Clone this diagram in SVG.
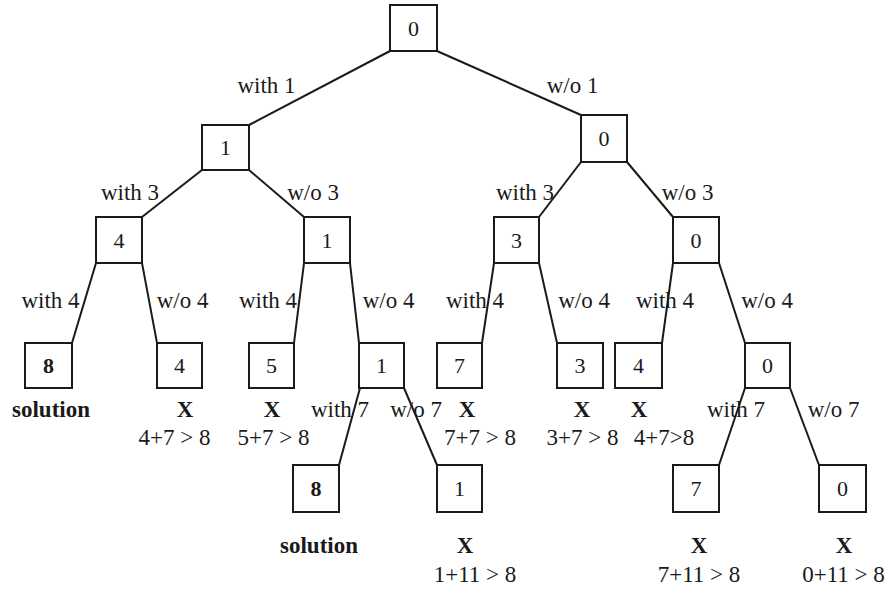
<svg xmlns="http://www.w3.org/2000/svg" width="893" height="589" viewBox="0 0 893 589">
<style>
.box{fill:#fff;stroke:#1a1a1a;stroke-width:2}
line{stroke:#1a1a1a;stroke-width:2}
text{font-family:"Liberation Serif","Times New Roman",serif;font-size:23px;fill:#1a1a1a;text-anchor:middle}
.n{font-size:22px}
.b{font-weight:bold}
</style>
<rect x="0" y="0" width="893" height="589" style="fill:#fff;stroke:none"/>
<g id="edges">
<line x1="390" y1="51" x2="249" y2="125"/>
<line x1="437" y1="51" x2="581" y2="115"/>
<line x1="202" y1="170" x2="142" y2="217"/>
<line x1="249" y1="170" x2="304" y2="217"/>
<line x1="581" y1="162" x2="539" y2="217"/>
<line x1="627" y1="162" x2="673" y2="217"/>
<line x1="96" y1="263" x2="72" y2="343"/>
<line x1="142" y1="263" x2="157" y2="343"/>
<line x1="304" y1="263" x2="294" y2="343"/>
<line x1="350" y1="263" x2="359" y2="343"/>
<line x1="494" y1="263" x2="482" y2="343"/>
<line x1="539" y1="263" x2="557" y2="343"/>
<line x1="673" y1="263" x2="662" y2="343"/>
<line x1="719" y1="263" x2="745" y2="343"/>
<line x1="360" y1="388" x2="339" y2="465"/>
<line x1="404" y1="388" x2="437" y2="465"/>
<line x1="745" y1="388" x2="719" y2="465"/>
<line x1="790" y1="388" x2="819" y2="465"/>
</g>
<g id="edge-labels">
<text x="266.5" y="93">with 1</text>
<text x="572.5" y="93">w/o 1</text>
<text x="130" y="200">with 3</text>
<text x="313" y="200">w/o 3</text>
<text x="525" y="200">with 3</text>
<text x="687.5" y="200">w/o 3</text>
<text x="50.5" y="308">with 4</text>
<text x="182.5" y="308">w/o 4</text>
<text x="268" y="308">with 4</text>
<text x="388.5" y="308">w/o 4</text>
<text x="475" y="308">with 4</text>
<text x="584" y="308">w/o 4</text>
<text x="665" y="308">with 4</text>
<text x="767" y="308">w/o 4</text>
<text x="340" y="417">with 7</text>
<text x="416" y="417">w/o 7</text>
<text x="736" y="417">with 7</text>
<text x="833.5" y="417">w/o 7</text>
</g>
<g id="n0"><rect class="box" x="390" y="5" width="47" height="46"/><text class="n" x="413.5" y="36">0</text></g>
<g id="n1"><rect class="box" x="202" y="125" width="47" height="45"/><text class="n" x="225.5" y="155">1</text></g>
<g id="n2"><rect class="box" x="581" y="115" width="46" height="47"/><text class="n" x="604" y="146">0</text></g>
<g id="n3"><rect class="box" x="96" y="217" width="46" height="46"/><text class="n" x="119" y="248">4</text></g>
<g id="n4"><rect class="box" x="304" y="217" width="46" height="46"/><text class="n" x="327" y="248">1</text></g>
<g id="n5"><rect class="box" x="494" y="217" width="45" height="46"/><text class="n" x="516.5" y="248">3</text></g>
<g id="n6"><rect class="box" x="673" y="217" width="46" height="46"/><text class="n" x="696" y="248">0</text></g>
<g id="n7"><rect class="box" x="25" y="343" width="47" height="45"/><text class="n b" x="48.5" y="373">8</text></g>
<g id="n8"><rect class="box" x="157" y="343" width="45" height="45"/><text class="n" x="179.5" y="373">4</text></g>
<g id="n9"><rect class="box" x="249" y="343" width="45" height="45"/><text class="n" x="271.5" y="373">5</text></g>
<g id="n10"><rect class="box" x="359" y="343" width="45" height="45"/><text class="n" x="381.5" y="373">1</text></g>
<g id="n11"><rect class="box" x="437" y="343" width="45" height="45"/><text class="n" x="459.5" y="373">7</text></g>
<g id="n12"><rect class="box" x="557" y="343" width="46" height="45"/><text class="n" x="580" y="373">3</text></g>
<g id="n13"><rect class="box" x="615" y="343" width="47" height="45"/><text class="n" x="638.5" y="373">4</text></g>
<g id="n14"><rect class="box" x="745" y="343" width="45" height="45"/><text class="n" x="767.5" y="373">0</text></g>
<g id="n15"><rect class="box" x="293" y="465" width="46" height="47"/><text class="n b" x="316" y="496">8</text></g>
<g id="n16"><rect class="box" x="437" y="465" width="45" height="47"/><text class="n" x="459.5" y="496">1</text></g>
<g id="n17"><rect class="box" x="673" y="465" width="46" height="47"/><text class="n" x="696" y="496">7</text></g>
<g id="n18"><rect class="box" x="819" y="465" width="47" height="47"/><text class="n" x="842.5" y="496">0</text></g>
<g id="outcomes">
<text class="b" x="51" y="417">solution</text>
<text class="b" x="185" y="417">X</text>
<text class="b" x="272" y="417">X</text>
<text class="b" x="467" y="417">X</text>
<text class="b" x="582" y="417">X</text>
<text class="b" x="639" y="417">X</text>
<text x="174.5" y="445">4+7 &gt; 8</text>
<text x="273.5" y="445">5+7 &gt; 8</text>
<text x="480" y="445">7+7 &gt; 8</text>
<text x="582.5" y="445">3+7 &gt; 8</text>
<text x="664" y="445">4+7&gt;8</text>
<text class="b" x="319" y="553">solution</text>
<text class="b" x="465" y="553">X</text>
<text class="b" x="699" y="553">X</text>
<text class="b" x="844" y="553">X</text>
<text x="475" y="582">1+11 &gt; 8</text>
<text x="699" y="582">7+11 &gt; 8</text>
<text x="843.5" y="582">0+11 &gt; 8</text>
</g>
</svg>
